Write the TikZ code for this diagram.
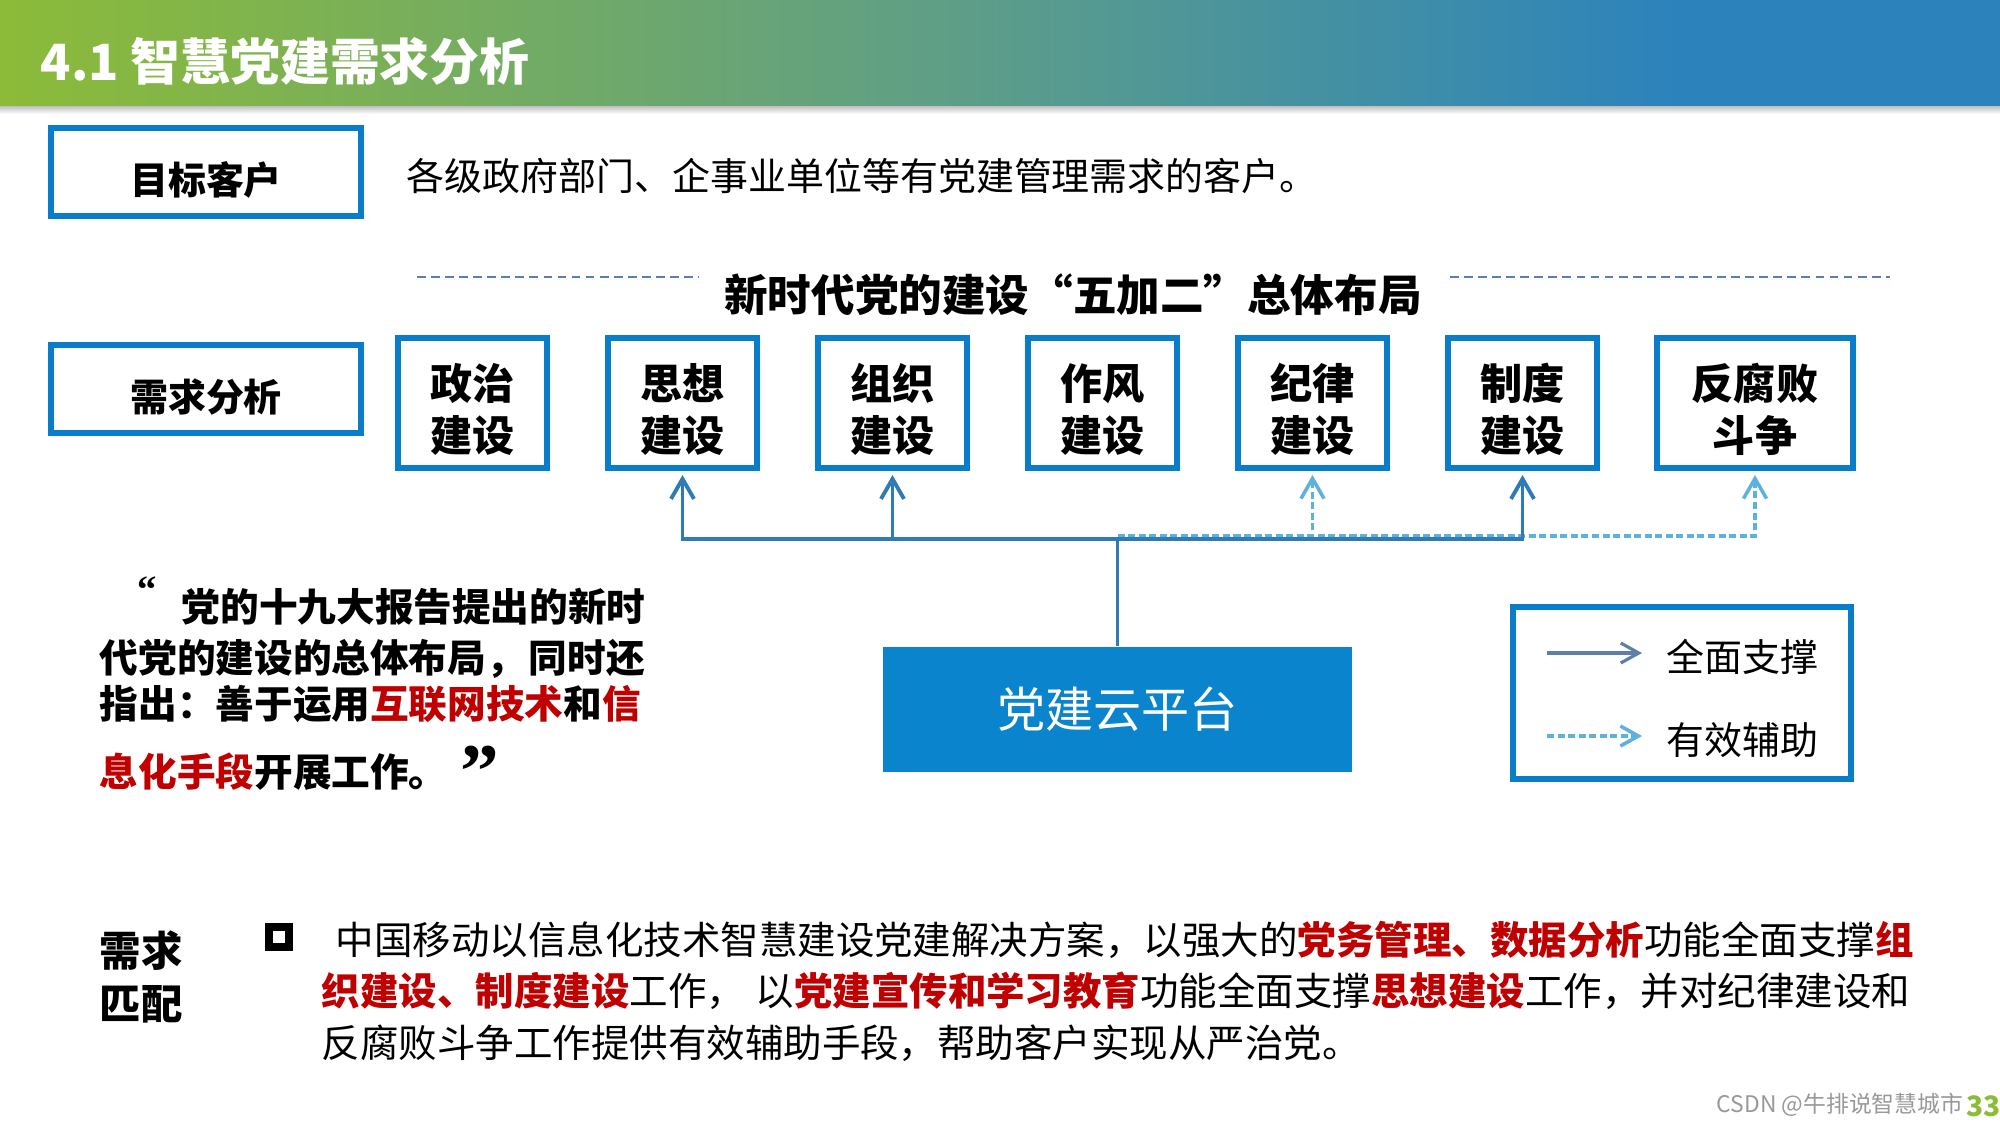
\documentclass[tikz,border=0pt]{standalone}
\usepackage{fontspec}
\setmainfont{Noto Sans CJK SC}
\newfontfamily\quotefont{Liberation Serif}
\usetikzlibrary{arrows.meta, positioning}

\definecolor{hdgreen}{HTML}{8CBB38}
\definecolor{hdmid}{HTML}{5E9E88}
\definecolor{hdblue}{HTML}{2C83BC}
\definecolor{frameblue}{HTML}{0A7DCA}
\definecolor{platblue}{HTML}{0A84CC}
\definecolor{linkblue}{HTML}{2F7BB6}
\definecolor{helpblue}{HTML}{5CB2DA}
\definecolor{legendgray}{HTML}{5E7FA8}
\definecolor{ruleblue}{HTML}{5B7DB5}
\definecolor{hotred}{HTML}{C00000}

\pgfdeclarehorizontalshading{headbar}{100bp}{color(0bp)=(hdgreen); color(25bp)=(hdgreen);
  color(49bp)=(hdmid); color(67bp)=(hdblue); color(100bp)=(hdblue)}

\newcommand{\redbf}[1]{\textcolor{hotred}{\bfseries #1}}

\begin{document}
\begin{tikzpicture}[
    tag/.style={rectangle, draw=frameblue, line width=1.5pt, minimum width=3.10cm, minimum height=0.88cm,
                inner sep=0pt, outer sep=0pt, text height=1.4em, text depth=0.12em,
                font=\fontsize{10.8}{13}\selectfont\bfseries},
    unit/.style={rectangle, draw=frameblue, line width=1.5pt, minimum width=1.49cm, minimum height=1.30cm,
                 inner sep=0pt, outer sep=0pt, align=center, text height=28.8pt,
                 font=\fontsize{12}{14.8}\selectfont\bfseries},
    plat/.style={rectangle, fill=platblue, minimum width=4.69cm, minimum height=1.25cm,
                 text=white, font=\fontsize{13.7}{16}\selectfont},
    txt/.style={inner sep=0pt, font=\fontsize{10.8}{13}\selectfont},
    quote/.style={inner sep=0pt, anchor=west, font=\fontsize{11}{13}\selectfont\bfseries},
    body/.style={inner sep=0pt, anchor=west, font=\fontsize{10.95}{13}\selectfont},
    link/.style={draw=linkblue, line width=1.1pt},
    arr/.style={link, -{Straight Barb[length=2mm, width=2.3mm]}, shorten >=2pt},
    darr/.style={draw=helpblue, line width=1pt, dash pattern=on 2pt off 1pt,
                 -{Straight Barb[length=2mm, width=2.3mm]}, shorten >=2pt},
    rule/.style={draw=ruleblue, line width=0.7pt, dash pattern=on 2.5pt off 1.5pt},
]

\useasboundingbox (0,0) rectangle (20,-11.25);
\fill[white] (0,0) rectangle (20,-11.25);

% Header
\shade[shading=headbar] (0,0) rectangle (20,-1.06);
\shade[top color=black!25, bottom color=white] (0,-1.06) rectangle (20,-1.14);
\node[txt, anchor=west, text=white, font=\fontsize{14.2}{17}\selectfont\bfseries] (head) at (0.40,-0.61)
    {4.1 智慧党建需求分析};

% Target customers
\node[tag] (target) at (2.06,-1.72) {目标客户};
\node[txt, anchor=west] (cust) at (4.06,-1.76) {各级政府部门、企事业单位等有党建管理需求的客户。};

% Layout title
\node[txt, font=\fontsize{12.4}{15}\selectfont\bfseries] (lay) at (10.73,-2.95)
    {新时代党的建设“五加二”总体布局};
\draw[rule] (4.17,-2.77) -- (6.99,-2.77);
\draw[rule] (14.50,-2.77) -- (18.90,-2.77);

% Needs analysis
\node[tag] (need) at (2.06,-3.89) {需求分析};
\node[unit] (p1) at (4.725,-4.03) {政治\\建设};
\node[unit, right=0.61cm of p1] (p2) {思想\\建设};
\node[unit, right=0.61cm of p2] (p3) {组织\\建设};
\node[unit, right=0.61cm of p3] (p4) {作风\\建设};
\node[unit, right=0.61cm of p4] (p5) {纪律\\建设};
\node[unit, right=0.61cm of p5] (p6) {制度\\建设};
\node[unit, minimum width=1.96cm, right=0.60cm of p6] (p7) {反腐败\\斗争};

% Platform
\node[plat] (cloud) at (11.175,-7.095) {党建云平台};
\coordinate[above=1.07cm of cloud] (hub);

% Arrows
\draw[link] (cloud.north) -- (hub);
\draw[darr] ([yshift=1pt]hub) -| (p7.south);
\draw[darr] ([yshift=1pt]hub) -| (p5.south);
\draw[arr] (hub) -| (p2.south);
\draw[arr] (hub) -| (p3.south);
\draw[arr] (hub) -| (p6.south);

% Legend
\node[tag, minimum width=3.38cm, minimum height=1.72cm] (legend) at (16.82,-6.93) {};
\coordinate (fa) at (15.47,-6.53);
\coordinate (fb) at (16.42,-6.53);
\draw[draw=legendgray, line width=0.9pt, -{Straight Barb[length=1.8mm, width=2mm]}] (fa) -- (fb);
\node[txt, anchor=west] (full) at (16.66,-6.57) {全面支撑};
\coordinate (ha) at (15.47,-7.36);
\coordinate (hb) at (16.42,-7.36);
\draw[darr, shorten >=0pt, -{Straight Barb[length=1.8mm, width=2mm]}] (ha) -- (hb);
\node[txt, anchor=west] (help) at (16.66,-7.40) {有效辅助};

% Quote
\node[txt, font=\fontsize{11}{11}\quotefont\bfseries] (qa) at (1.47,-5.90) {“};
\node[quote] (q1) at (1.81,-6.07) {党的十九大报告提出的新时};
\node[quote] (q2) at (0.99,-6.59) {\makebox[5.45cm][s]{代党的建设的总体布局，\hfill 同时还}};
\node[quote] (q3) at (0.99,-7.04) {指出：善于运用\textcolor{hotred}{互联网技术}和\textcolor{hotred}{信}};
\node[quote] (q4) at (0.99,-7.72) {\textcolor{hotred}{息化手段}开展工作。};
\node[txt, font=\fontsize{22}{22}\quotefont\bfseries] (qb) at (4.80,-7.72) {”};

% Matching
\node[txt, align=left, font=\fontsize{11.8}{15.3}\selectfont\bfseries] (match) at (1.41,-9.77) {需求\\匹配};
\node[draw=black, line width=2.2pt, minimum size=0.20cm, inner sep=0pt] (dot) at (2.79,-9.37) {};
\node[body] (b1) at (3.35,-9.40)
    {中国移动以信息化技术智慧建设党建解决方案，以强大的\redbf{党务管理、数据分析}功能全面支撑\redbf{组}};
\node[body] (b2) at (3.21,-9.91)
    {\redbf{织建设、制度建设}工作，\hspace{3pt}以\redbf{党建宣传和学习教育}功能全面支撑\redbf{思想建设}工作，并对纪律建设和};
\node[body] (b3) at (3.21,-10.43) {反腐败斗争工作提供有效辅助手段，帮助客户实现从严治党。};

% Footer
\node[txt, anchor=east, text=black!40, font=\fontsize{6.5}{8}\selectfont] (wm) at (19.64,-11.05)
    {CSDN @牛排说智慧城市};
\node[txt, anchor=west, text=hdgreen, font=\fontsize{8}{9}\selectfont\bfseries] (pg) at (19.66,-11.06) {33};

\end{tikzpicture}
\end{document}
